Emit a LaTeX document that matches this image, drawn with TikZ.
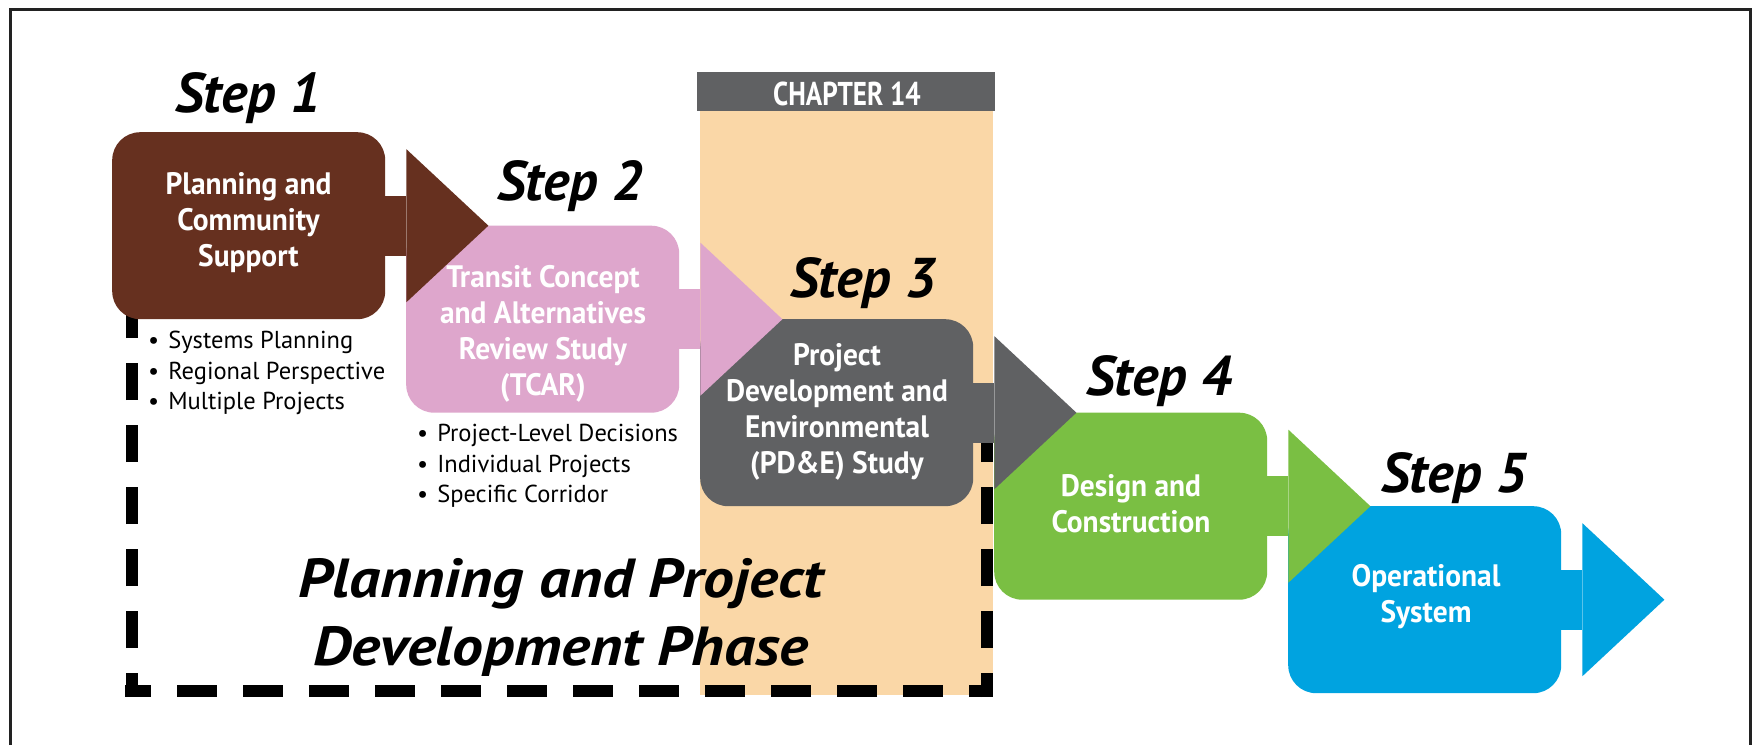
\documentclass[tikz,border=0pt]{standalone}
\usepackage{fontspec}
\setmainfont{PT Sans}
\newfontfamily\cndf{PT Sans}[FakeStretch=0.95]
\newfontfamily\chapf{PT Sans}[FakeStretch=0.82]
\newfontfamily\stepff{PT Sans}
\newfontfamily\phasef{PT Sans}[FakeStretch=1.12]
\usetikzlibrary{calc}
\definecolor{cbrown}{HTML}{66301F}
\definecolor{cpink}{HTML}{DEA6CC}
\definecolor{cgray}{HTML}{606163}
\definecolor{cgreen}{HTML}{7ABF43}
\definecolor{cblue}{HTML}{00A3E0}
\definecolor{cpeach}{HTML}{FAD7A7}
\definecolor{cframe}{HTML}{222222}
\tikzset{
  stepbox/.style={rectangle, rounded corners=28pt, minimum width=273pt, minimum height=187pt, inner sep=0pt, anchor=north west},
  boxtext/.style={align=center, text=white, inner sep=0pt, font=\cndf\bfseries\fontsize{31}{36}\selectfont},
  steplabel/.style={anchor=base, inner sep=0pt, font=\stepff\bfseries\itshape\fontsize{56}{60}\selectfont},
  phase/.style={anchor=base, inner sep=0pt, font=\phasef\bfseries\itshape\fontsize{55}{60}\selectfont},
  bullet/.style={anchor=base west, inner sep=0pt, font=\stepff\fontsize{24.5}{30}\selectfont},
  frame/.style={line width=3pt, draw=cframe},
  vdash/.style={line width=12pt, dash pattern=on 37pt off 25pt, dash phase=13pt},
  hdash/.style={line width=12pt, dash pattern=on 40pt off 26pt, dash phase=14pt},
}
\newcommand\chevron[2]{%
  \fill[#1] ([xshift=-12pt,yshift=30pt]#2.east) rectangle ([xshift=21pt,yshift=-30pt]#2.east);
  \fill[#1] ([xshift=21pt,yshift=76.5pt]#2.east) -- ([xshift=103pt]#2.east) -- ([xshift=21pt,yshift=-76.5pt]#2.east) -- cycle;
}
\begin{document}
\begin{tikzpicture}[x=1pt,y=-1pt]
\useasboundingbox (0,0) rectangle (1754,745);
\fill[white] (0,0) rectangle (1754,745);
% outer frame (open at the bottom)
\draw[frame] (10,745) -- (10,9) -- (1750,9) -- (1750,745);
% chapter 14 band
\fill[cpeach] (700,111) rectangle (993,695);
\node[fill=cgray, minimum width=298pt, minimum height=39pt, inner sep=0pt, anchor=north west] (chap) at (697,72) {};
\node[anchor=base, inner sep=0pt, text=white, font=\chapf\bfseries\fontsize{33}{35}\selectfont] (chaptxt) at (847,105) {CHAPTER 14};
% dashed phase outline (open at the top)
\draw[vdash] (132,697) -- (132,300);
\draw[hdash] (125,691) -- (993,691);
\draw[vdash] (987,697) -- (987,412);
% steps, drawn from last to first so each arrow head lies over the next box
\node[stepbox, fill=cblue] (b5) at (1288,506) {};
\chevron{cblue}{b5}
\node[stepbox, fill=cgreen] (b4) at (994,412.5) {};
\chevron{cgreen}{b4}
\node[stepbox, fill=cgray] (b3) at (700,319) {};
\chevron{cgray}{b3}
\node[stepbox, fill=cpink] (b2) at (406,225.5) {};
\chevron{cpink}{b2}
\node[stepbox, fill=cbrown] (b1) at (112,132) {};
\chevron{cbrown}{b1}
% box texts
\node[boxtext] (t1) at (248.5,223) {Planning and\\Community\\Support};
\node[boxtext] (t2) at (543,334) {Transit Concept\\and Alternatives\\Review Study\\(TCAR)};
\node[boxtext] (t3) at (837,412) {Project\\Development and\\Environmental\\(PD\&E) Study};
\node[boxtext] (t4) at (1131,504) {Design and\\Construction};
\node[boxtext] (t5) at (1426,597) {Operational\\System};
% step labels
\node[steplabel] (s1) at (248,112) {Step 1};
\node[steplabel] (s2) at (570,200) {Step 2};
\node[steplabel] (s3) at (863,297) {Step 3};
\node[steplabel] (s4) at (1159,395) {Step 4};
\node[steplabel] (s5) at (1454,492) {Step 5};
% bullet lists
\node[bullet] (l11) at (148,348) {\textbullet\hspace{9pt}Systems Planning};
\node[bullet] (l12) at (148,379) {\textbullet\hspace{9pt}Regional Perspective};
\node[bullet] (l13) at (148,409) {\textbullet\hspace{9pt}Multiple Projects};
\node[bullet] (l21) at (417,441) {\textbullet\hspace{9pt}Project-Level Decisions};
\node[bullet] (l22) at (417,472) {\textbullet\hspace{9pt}Individual Projects};
\node[bullet] (l23) at (417,502) {\textbullet\hspace{9pt}Specific Corridor};
% phase title
\node[phase] (p1) at (561,597) {Planning and Project};
\node[phase] (p2) at (561,665) {Development Phase};
\end{tikzpicture}
\end{document}
